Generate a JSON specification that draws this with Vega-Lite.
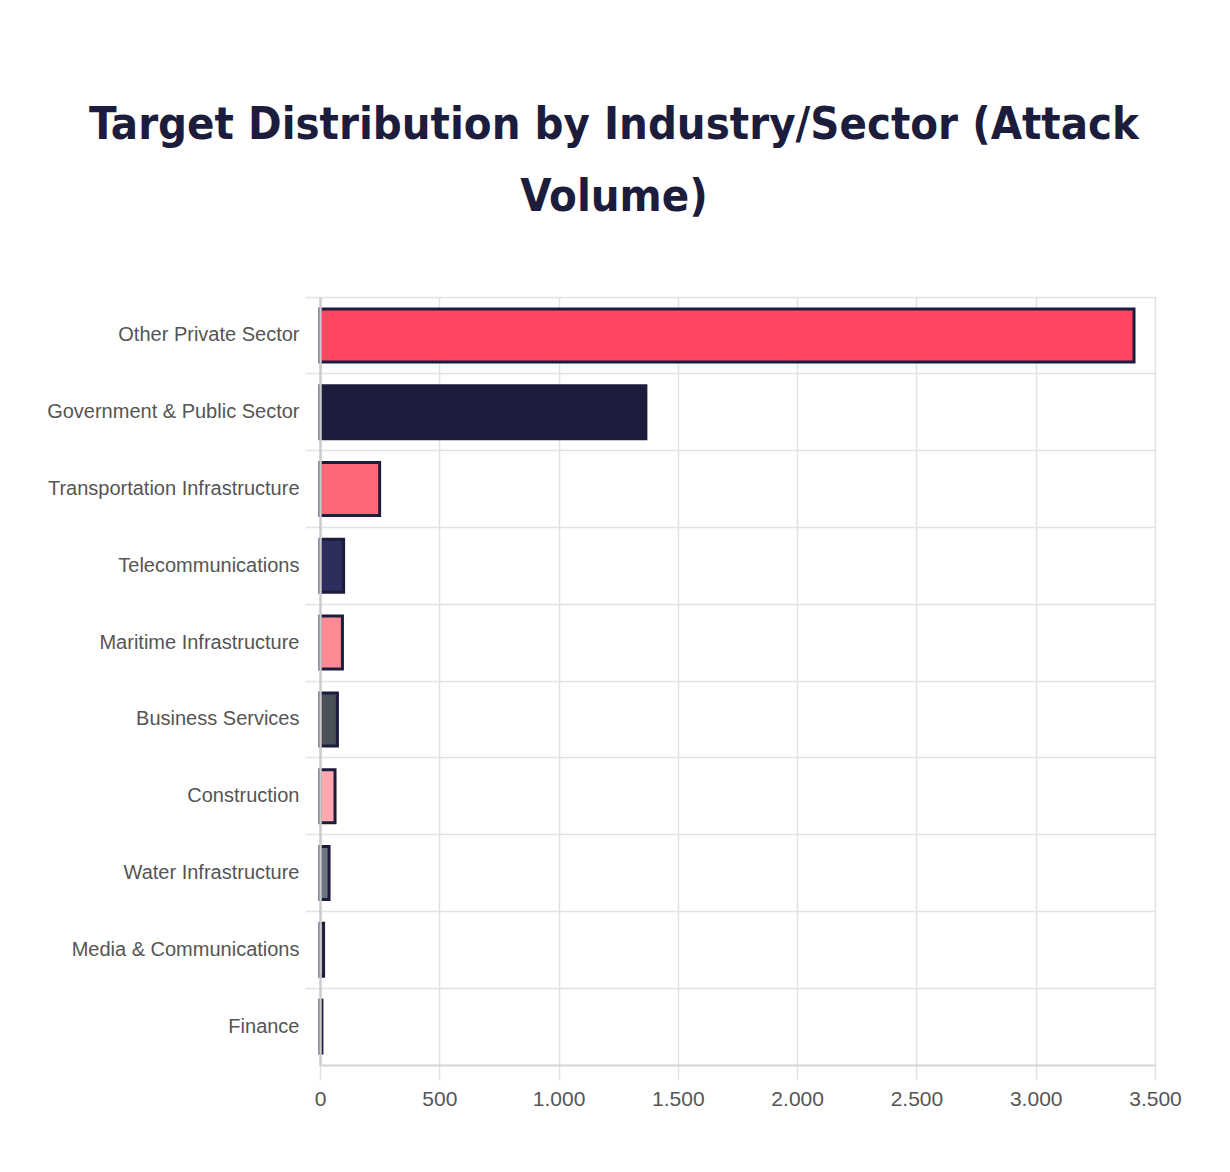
{
  "$schema": "https://vega.github.io/schema/vega-lite/v6.json",
  "width": 835,
  "height": 768,
  "autosize": {"type": "none"},
  "padding": {"left": 320, "top": 297, "right": 75, "bottom": 107},
  "background": "white",
  "title": {
    "text": ["Target Distribution by Industry/Sector (Attack", "Volume)"],
    "font": "DejaVu Sans Condensed, DejaVu Sans",
    "fontWeight": "bold",
    "fontSize": 45,
    "lineHeight": 72,
    "color": "#1c1c3c",
    "anchor": "middle",
    "frame": "bounds",
    "offset": 76
  },
  "config": {
    "locale": {
      "number": {"decimal": ",", "thousands": ".", "grouping": [3], "currency": ["", "€"]}
    },
    "view": {"stroke": null}
  },
  "data": {
    "values": [
      {"sector": "Other Private Sector", "attacks": 3412},
      {"sector": "Government & Public Sector", "attacks": 1366},
      {"sector": "Transportation Infrastructure", "attacks": 250},
      {"sector": "Telecommunications", "attacks": 99},
      {"sector": "Maritime Infrastructure", "attacks": 94},
      {"sector": "Business Services", "attacks": 73},
      {"sector": "Construction", "attacks": 63},
      {"sector": "Water Infrastructure", "attacks": 38},
      {"sector": "Media & Communications", "attacks": 15},
      {"sector": "Finance", "attacks": 8}
    ]
  },
  "mark": {
    "type": "bar",
    "height": {"band": 0.69},
    "stroke": "#1c1c3c",
    "strokeWidth": 3
  },
  "encoding": {
    "y": {
      "field": "sector",
      "type": "nominal",
      "sort": null,
      "title": null,
      "scale": {"paddingInner": 0, "paddingOuter": 0},
      "axis": {
        "bandPosition": 0,
        "zindex": 1,
        "grid": true,
        "gridColor": "#e2e2e2",
        "gridWidth": 1.5,
        "ticks": true,
        "tickSize": 15,
        "tickColor": "#e2e2e2",
        "tickWidth": 1.5,
        "domain": true,
        "domainColor": "#cccccc",
        "domainWidth": 2.5,
        "labelFont": "Liberation Sans",
        "labelFontSize": 20,
        "labelColor": "#555555",
        "labelPadding": 6,
        "labelLimit": 400
      }
    },
    "x": {
      "field": "attacks",
      "type": "quantitative",
      "title": null,
      "scale": {"domain": [0, 3500], "nice": false},
      "axis": {
        "values": [0, 500, 1000, 1500, 2000, 2500, 3000, 3500],
        "format": ",d",
        "grid": true,
        "gridColor": "#e2e2e2",
        "gridWidth": 1.5,
        "ticks": true,
        "tickSize": 15,
        "tickColor": "#e2e2e2",
        "tickWidth": 1.5,
        "domainColor": "#d4d4d4",
        "domainWidth": 2,
        "labelFont": "Liberation Sans",
        "labelFontSize": 21,
        "labelColor": "#555555",
        "labelPadding": 8,
        "labelFlush": false
      }
    },
    "color": {
      "field": "sector",
      "type": "nominal",
      "legend": null,
      "scale": {
        "domain": ["Other Private Sector", "Government & Public Sector", "Transportation Infrastructure", "Telecommunications", "Maritime Infrastructure", "Business Services", "Construction", "Water Infrastructure", "Media & Communications", "Finance"],
        "range": ["#ff4560", "#1c1c3c", "#ff6677", "#2d2d5e", "#ff8a93", "#4a5058", "#ffa8b0", "#6c7580", "#ffc8cc", "#8a90a0"]
      }
    }
  }
}
